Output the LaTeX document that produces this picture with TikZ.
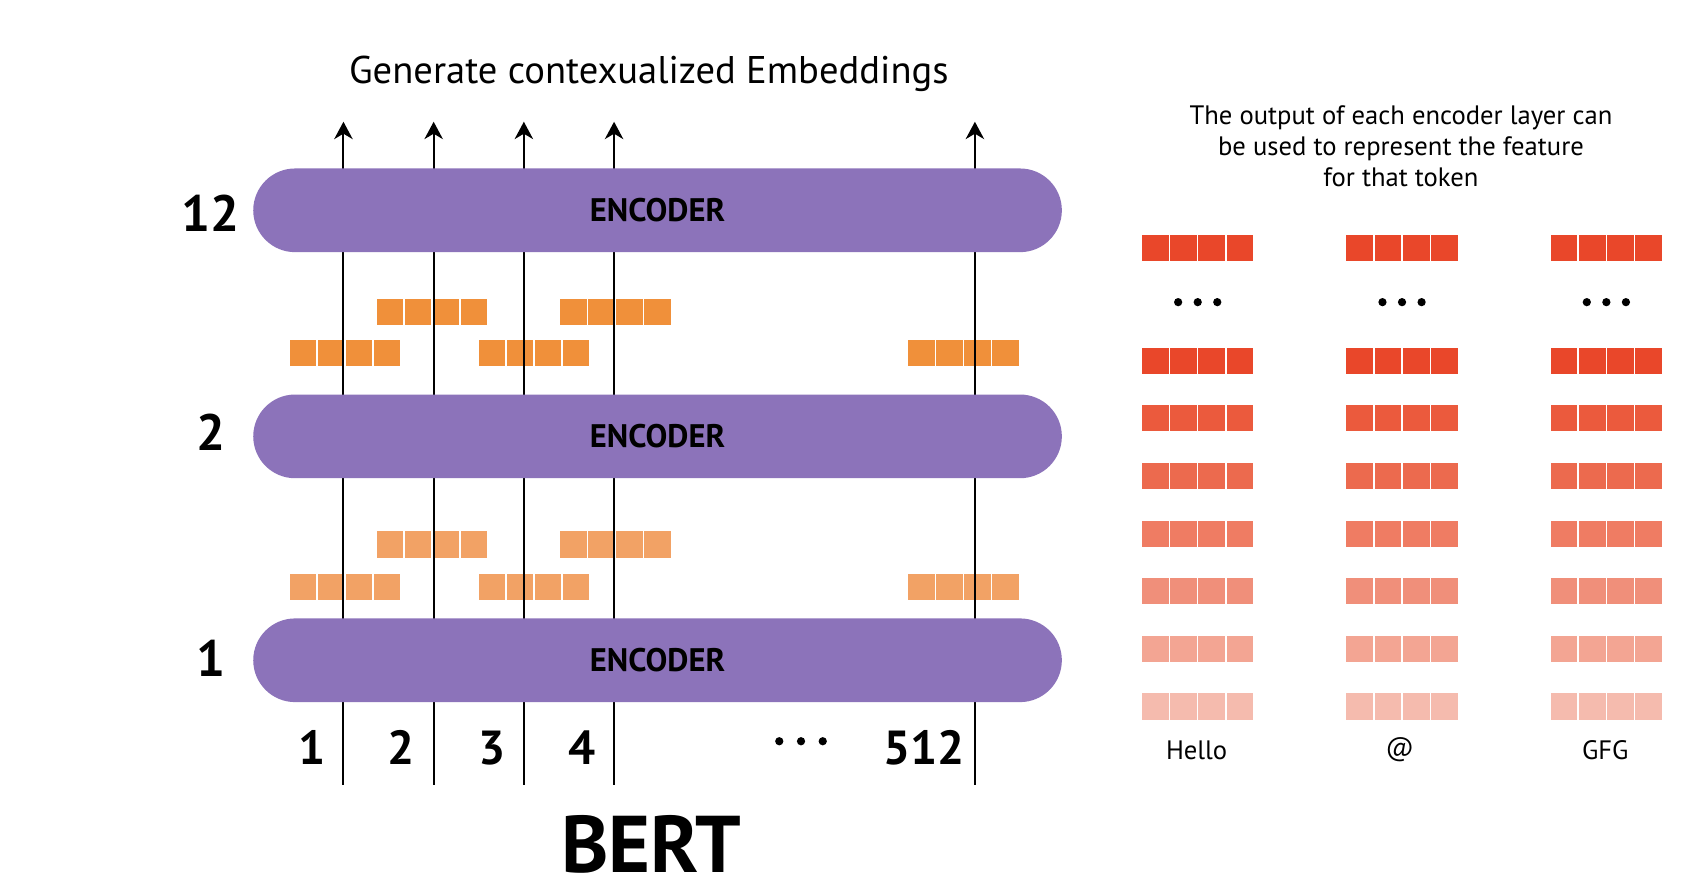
\documentclass[tikz,border=0pt]{standalone}
\usepackage{fontspec}
\setmainfont{PT Sans}
\usetikzlibrary{arrows.meta}
\definecolor{encpurple}{HTML}{8C73BA}
\definecolor{orA}{HTML}{F0903A}
\definecolor{orB}{HTML}{F2A265}
\definecolor{rd1}{HTML}{E9472A}
\definecolor{rd2}{HTML}{EB5A3D}
\definecolor{rd3}{HTML}{EC6A4E}
\definecolor{rd4}{HTML}{EF7C63}
\definecolor{rd5}{HTML}{F08F7A}
\definecolor{rd6}{HTML}{F3A593}
\definecolor{rd7}{HTML}{F5BBAE}
\newcommand\vecrow[4]{% x-left, y-top, width, colour
  \foreach \k in {0,1,2,3}{\fill[#4] (#1+\k*#3/4+0.7,#2) rectangle ++(#3/4-1.4,24);}}
\begin{document}
\begin{tikzpicture}[x=1pt,y=-1pt,
  enc/.style={fill=encpurple,draw=none,rounded corners=38.5pt,minimum width=744pt,minimum height=77pt,inner sep=0pt,font=\fontsize{30}{34}\selectfont\bfseries},
  layernum/.style={font=\fontsize{47}{52}\selectfont\bfseries},
  tok/.style={font=\fontsize{44}{50}\selectfont\bfseries},
  small/.style={font=\fontsize{24.5}{28.5}\selectfont},
  arr/.style={line width=1.8pt,-{Stealth[length=16pt,width=17pt,inset=5pt]}},
  dotc/.style={fill=black}]
\fill[white] (0,0) rectangle (1566,817);
\useasboundingbox (0,0) rectangle (1566,817);

% title
\node[font=\fontsize{35.5}{40}\selectfont] (title) at (597,68) {Generate contexualized Embeddings};

% vector blocks between layers
\vecrow{266}{313}{103}{orA}
\vecrow{440}{313}{103}{orA}
\vecrow{835}{313}{103}{orA}
\vecrow{346}{275}{103}{orA}
\vecrow{515}{275}{103}{orA}
\vecrow{266}{528}{103}{orB}
\vecrow{440}{528}{103}{orB}
\vecrow{835}{528}{103}{orB}
\vecrow{346}{489}{103}{orB}
\vecrow{515}{489}{103}{orB}

% token lines
\foreach \i/\x in {1/316,2/399,3/482,4/565,5/897}{
  \coordinate (b\i) at (\x,722);
  \coordinate (t\i) at (\x,112);
  \draw[arr] (b\i) -- (t\i);
}

% encoders
\node[enc] (e12) at (605,193.5) {ENCODER};
\node[enc] (e2) at (605,401.5) {ENCODER};
\node[enc] (e1) at (605,607.5) {ENCODER};

\node[layernum] (n12) at (194,196) {12};
\node[layernum] (n2) at (194,398) {2};
\node[layernum] (n1) at (194,606) {1};

% token numbers
\node[tok] (k1) at (287,688) {1};
\node[tok] (k2) at (369,688) {2};
\node[tok] (k3) at (453,688) {3};
\node[tok] (k4) at (536,688) {4};
\node[tok] (k512) at (850,688) {512};
\foreach \x in {717,737,757}{\fill[dotc] (\x,682) circle (3.8);}

\node[font=\fontsize{74}{80}\selectfont\bfseries,inner sep=0pt] (bert) at (599,777) {BERT};

% right panel
\node[small,align=center] (desc) at (1289,134.5) {The output of each encoder layer can\\be used to represent the feature\\for that token};

\foreach \gx/\cx in {1050/1102,1238/1290,1426/1478}{
  \vecrow{\gx}{216}{104}{rd1}
  \foreach \dx in {-18,0,18}{\fill[dotc] (\cx+\dx,278) circle (3.8);}
  \vecrow{\gx}{320}{104}{rd1}
  \vecrow{\gx}{373}{104}{rd2}
  \vecrow{\gx}{426}{104}{rd3}
  \vecrow{\gx}{479}{104}{rd4}
  \vecrow{\gx}{532}{104}{rd5}
  \vecrow{\gx}{585}{104}{rd6}
  \vecrow{\gx}{638}{104}{rd7}
}

\node[small] (w1) at (1101,690) {Hello};
\node[small] (w2) at (1288,690) {@};
\node[small] (w3) at (1477,690) {GFG};
\end{tikzpicture}
\end{document}
